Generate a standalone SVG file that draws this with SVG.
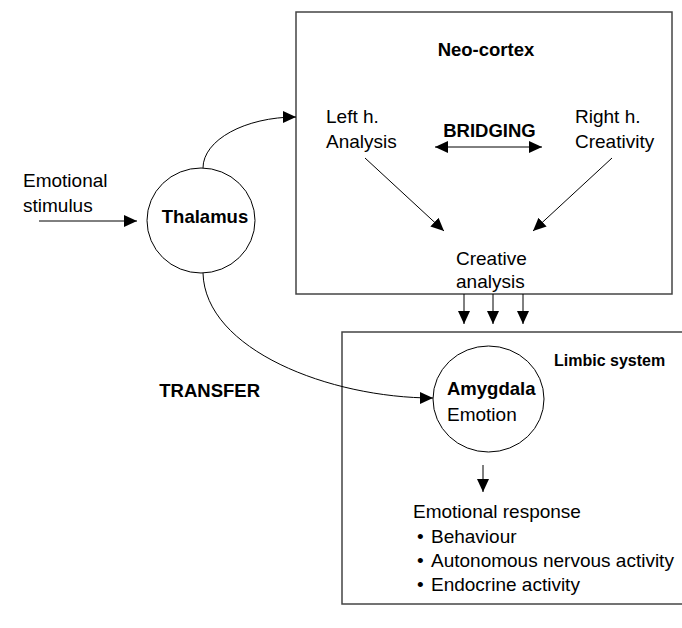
<svg xmlns="http://www.w3.org/2000/svg" width="682" height="628" viewBox="0 0 682 628">
<style>
text{font-family:"Liberation Sans",Arial,sans-serif;fill:#000}
.r{font-size:19px}
.b{font-size:18.5px;font-weight:bold}
.s{font-size:16px;font-weight:bold}
.box{fill:none;stroke:#444;stroke-width:1.5}
.node{fill:#fff;stroke:#000;stroke-width:1}
.ln{fill:none;stroke:#000;stroke-width:1}
.arr{marker-end:url(#ah)}
</style>
<defs>
<marker id="ah" markerUnits="userSpaceOnUse" markerWidth="13" markerHeight="12" refX="13" refY="6" orient="auto-start-reverse" viewBox="0 0 13 12">
<path d="M0,0 L13,6 L0,12 z" fill="#000"/>
</marker>
</defs>
<rect width="682" height="628" fill="#fff"/>
<g id="neocortex">
<rect class="box" x="296" y="12" width="376" height="282"/>
<text class="b" x="486" y="56" text-anchor="middle">Neo-cortex</text>
</g>
<g id="left-h">
<text class="r" x="326" y="123">Left h.</text>
<text class="r" x="326" y="148">Analysis</text>
</g>
<g id="right-h">
<text class="r" x="575" y="123">Right h.</text>
<text class="r" x="575" y="148">Creativity</text>
</g>
<g id="bridging">
<text class="b" x="489.5" y="137" text-anchor="middle">BRIDGING</text>
</g>
<g id="creative-analysis">
<text class="r" x="456" y="265">Creative</text>
<text class="r" x="456" y="288">analysis</text>
</g>
<g id="limbic">
<rect class="box" x="342" y="332" width="350" height="272"/>
<text class="s" x="554" y="366">Limbic system</text>
</g>
<g id="stimulus">
<text class="r" x="23" y="187">Emotional</text>
<text class="r" x="23" y="212">stimulus</text>
</g>
<g id="thalamus">
<ellipse class="node" cx="201" cy="220.5" rx="54" ry="52.5"/>
<text class="b" x="205" y="223" text-anchor="middle">Thalamus</text>
</g>
<g id="transfer">
<text class="b" x="260" y="397" text-anchor="end">TRANSFER</text>
</g>
<g id="amygdala">
<ellipse class="node" cx="488.5" cy="399" rx="55.5" ry="53"/>
<text class="b" x="447" y="395">Amygdala</text>
<text class="r" x="447" y="421">Emotion</text>
</g>
<g id="response">
<text class="r" x="413" y="518">Emotional response</text>
<text class="r" x="417" y="543">•</text>
<text class="r" x="431" y="543">Behaviour</text>
<text class="r" x="417" y="567">•</text>
<text class="r" x="431" y="567">Autonomous nervous activity</text>
<text class="r" x="417" y="591">•</text>
<text class="r" x="431" y="591">Endocrine activity</text>
</g>
<g id="connectors">
<path class="ln arr" d="M39,221 L137,221"/>
<path class="ln arr" d="M203,168 C203,140 245,117 296,117"/>
<path class="ln arr" d="M203,273 C205,350 330,398 433,398"/>
<path class="ln arr" d="M435,147 L542,147" marker-start="url(#ah)"/>
<path class="ln arr" d="M365,158 L444,231"/>
<path class="ln arr" d="M612,158 L533,231"/>
<path class="ln arr" d="M464,294 L464,324"/>
<path class="ln arr" d="M493,294 L493,324"/>
<path class="ln arr" d="M523,294 L523,324"/>
<path class="ln arr" d="M483,465 L483,492"/>
</g>
</svg>
